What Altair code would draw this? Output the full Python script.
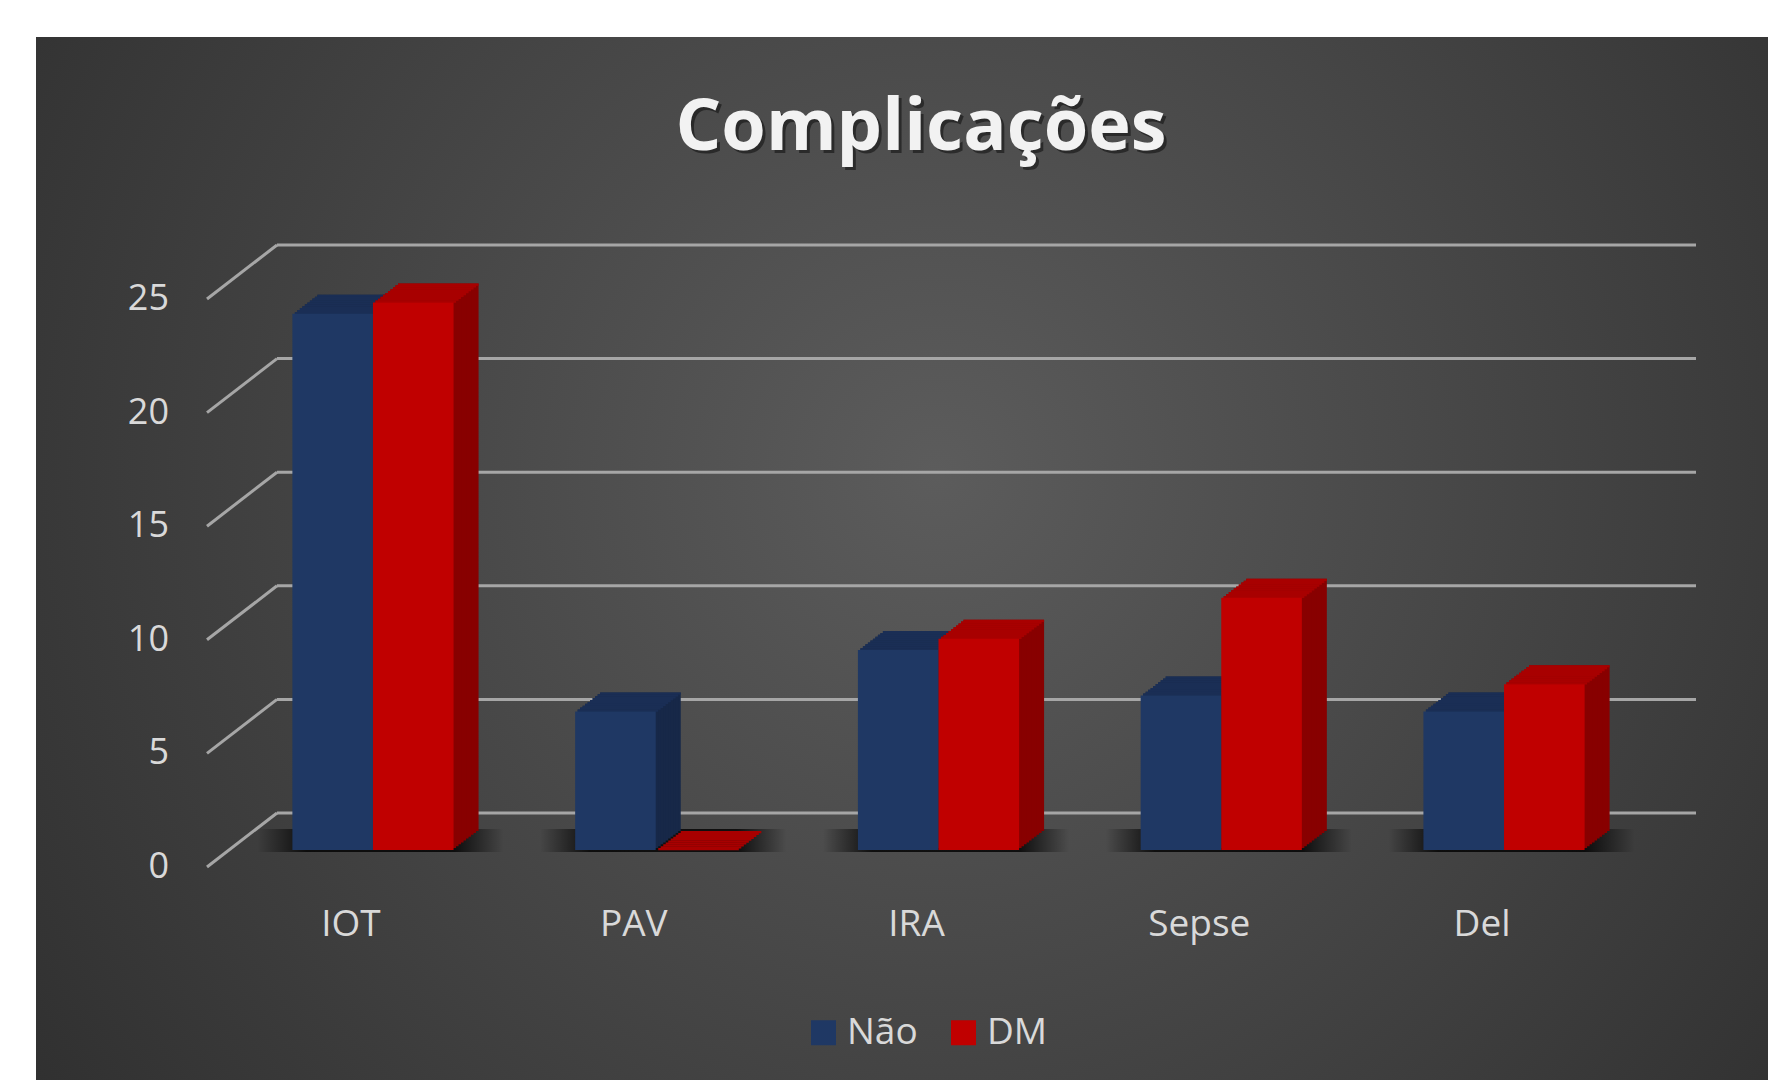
import altair as alt
import pandas as pd

# ---- data -------------------------------------------------------------
categories = ["IOT", "PAV", "IRA", "Sepse", "Del"]
series_names = ["Não", "DM"]
nao_values = [23.6, 6.1, 8.8, 6.8, 6.1]
dm_values = [24.1, 0.0, 9.3, 11.1, 7.3]
y_ticks = [0, 5, 10, 15, 20, 25]
chart_title = "Complicações"

# ---- styling ----------------------------------------------------------
FONT = "Open Sans"
LABEL_COLOR = "#d9d9d9"
GRID_COLOR = "#a6a6a6"
FRONT = {"Não": "#1f3864", "DM": "#c00000"}
TOP = {"Não": "#1a2e55", "DM": "#a80000"}
SIDE = {"Não": "#172848", "DM": "#880000"}
BAND_START = {"Não": 0.0, "DM": 0.5}

DEPTH_X, DEPTH_Y = 25.0, 19.0   # extrusion of each column
STEPS = 10
SX, SY = DEPTH_X / STEPS, DEPTH_Y / STEPS

BACK_DY = -37    # back wall relative to the column plane
FRONT_DY = 17    # front edge relative to the column plane

bars = pd.DataFrame({
    "category": categories * 2,
    "series": [series_names[0]] * len(categories) + [series_names[1]] * len(categories),
    "value": nao_values + dm_values,
})
ticks = pd.DataFrame({"tick": y_ticks})
cats = pd.DataFrame({"category": categories})
one = pd.DataFrame({"label": [chart_title]})

x_scale = alt.Scale(domain=categories, range=[231.6, 1645.4],
                    paddingInner=0.43, paddingOuter=0.215)
y_scale = alt.Scale(domain=[0, 25], range=[850, 282], nice=False, zero=True)

layers = []

# dark radial backdrop
layers.append(
    alt.Chart(one).mark_rect(
        fill=alt.RadialGradient(
            gradient="radial", x1=0.52, y1=0.45, r1=0, x2=0.52, y2=0.45, r2=0.72,
            stops=[alt.GradientStop(offset=0, color="#5c5c5c"),
                   alt.GradientStop(offset=1, color="#2a2a2a")]),
    ).encode(x=alt.value(36), x2=alt.value(1768), y=alt.value(37), y2=alt.value(1080))
)

# title with a soft shadow
layers.append(
    alt.Chart(one).mark_text(font=FONT, fontSize=72, fontWeight="bold", color="#000000",
                             opacity=0.45, align="center", baseline="alphabetic")
    .encode(x=alt.value(924), y=alt.value(153), text="label:N")
)
layers.append(
    alt.Chart(one).mark_text(font=FONT, fontSize=72, fontWeight="bold", color="#f2f2f2",
                             align="center", baseline="alphabetic")
    .encode(x=alt.value(921), y=alt.value(150), text="label:N")
)

# gridlines on the back wall and the slanted side wall
layers.append(
    alt.Chart(ticks).mark_rule(color=GRID_COLOR, strokeWidth=3, yOffset=BACK_DY)
    .encode(y=alt.Y("tick:Q", scale=y_scale, axis=None), x=alt.value(277), x2=alt.value(1696))
)
layers.append(
    alt.Chart(ticks).mark_rule(color=GRID_COLOR, strokeWidth=3,
                               yOffset=FRONT_DY, y2Offset=BACK_DY)
    .encode(y=alt.Y("tick:Q", scale=y_scale, axis=None), y2="tick:Q",
            x=alt.value(207), x2=alt.value(277))
)

# value axis labels
layers.append(
    alt.Chart(ticks).mark_text(font=FONT, fontSize=36, color=LABEL_COLOR, align="right",
                               baseline="middle", dy=FRONT_DY)
    .encode(y=alt.Y("tick:Q", scale=y_scale, axis=None), x=alt.value(169), text="tick:Q")
)

# category labels
layers.append(
    alt.Chart(cats).mark_text(font=FONT, fontSize=37, color=LABEL_COLOR,
                              align="center", baseline="middle", dx=-22)
    .encode(x=alt.X("category:N", scale=x_scale, axis=None), y=alt.value(925),
            text="category:N")
)

# floor shadow under each pair of columns
layers.append(
    alt.Chart(cats).mark_rect(
        fill=alt.LinearGradient(
            gradient="linear", x1=0, y1=0, x2=1, y2=0,
            stops=[alt.GradientStop(offset=0, color="rgba(0,0,0,0)"),
                   alt.GradientStop(offset=0.2, color="rgba(0,0,0,0.8)"),
                   alt.GradientStop(offset=0.8, color="rgba(0,0,0,0.8)"),
                   alt.GradientStop(offset=1, color="rgba(0,0,0,0)")]),
        xOffset=-35, x2Offset=50, yOffset=-21, y2Offset=2,
    ).encode(
        x=alt.X("category:N", scale=x_scale, axis=None, bandPosition=0),
        x2=alt.X2("category:N", bandPosition=1),
        y=alt.YDatum(0, scale=y_scale, axis=None),
        y2=alt.Y2Datum(0),
    )
)


def column_base(s):
    b0 = BAND_START[s]
    return alt.Chart(bars).transform_filter(alt.datum.series == s), dict(
        x=alt.X("category:N", scale=x_scale, axis=None, bandPosition=b0),
        x2=alt.X2("category:N", bandPosition=b0 + 0.5),
    )


for s in series_names:
    base, xenc = column_base(s)
    # side face: stacked shifted copies
    for k in range(STEPS, 0, -1):
        layers.append(
            base.mark_rect(color=SIDE[s], xOffset=k * SX, x2Offset=k * SX,
                           yOffset=-k * SY, y2Offset=-k * SY)
            .encode(y=alt.Y("value:Q", scale=y_scale, axis=None),
                    y2=alt.Y2Datum(0), **xenc)
        )
    # top face: thin slices along the depth
    for k in range(STEPS, 0, -1):
        layers.append(
            base.mark_rect(color=TOP[s], xOffset=k * SX, x2Offset=k * SX,
                           yOffset=-k * SY, y2Offset=-(k - 1) * SY + 0.3)
            .encode(y=alt.Y("value:Q", scale=y_scale, axis=None),
                    y2="value:Q", **xenc)
        )
    # front face
    layers.append(
        base.mark_rect()
        .encode(
            y=alt.Y("value:Q", scale=y_scale, axis=None),
            y2=alt.Y2Datum(0),
            color=alt.Color(
                "series:N",
                scale=alt.Scale(domain=series_names,
                                range=[FRONT[n] for n in series_names]),
                legend=alt.Legend(
                    title=None, orient="none", legendX=805, legendY=1014,
                    direction="horizontal", symbolType="square", symbolSize=625,
                    symbolStrokeWidth=0, symbolOpacity=1, labelFont=FONT,
                    labelFontSize=37, labelColor=LABEL_COLOR, labelOffset=5,
                    columnPadding=27, padding=0,
                ),
            ),
            **xenc,
        )
    )

chart = alt.layer(*layers).properties(
    width=1768, height=1080, padding=0,
    autosize=alt.AutoSizeParams(type="none"), background="white",
).configure_view(stroke=None)

chart.save("out.html", embed_options={"renderer": "svg", "actions": False})
